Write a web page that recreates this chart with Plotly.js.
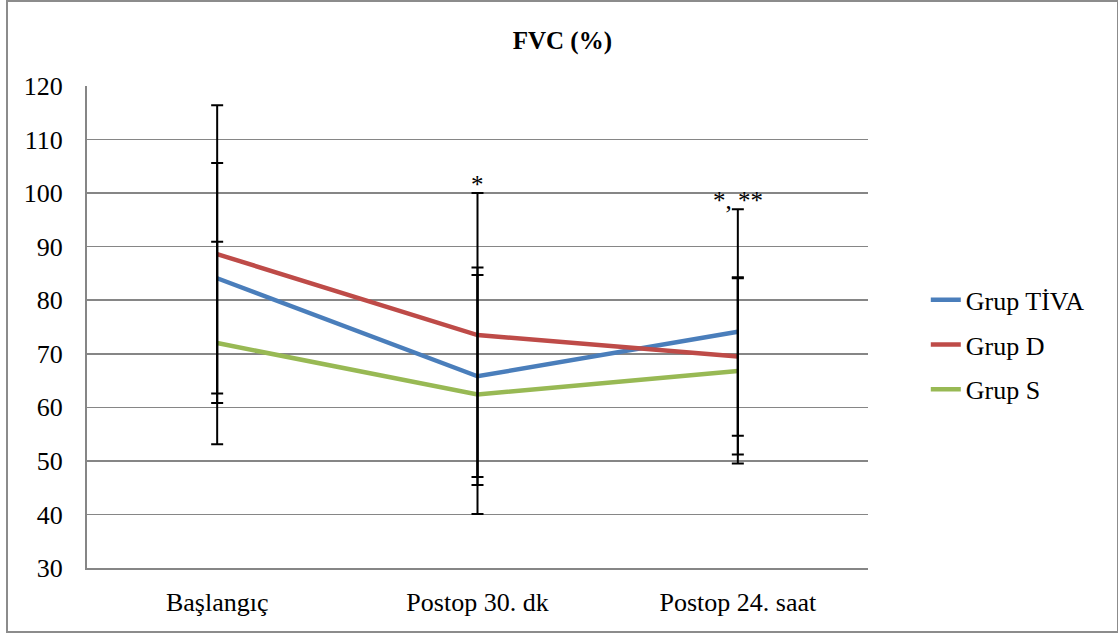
<!DOCTYPE html>
<html>
<head>
<meta charset="utf-8">
<script src="https://cdn.plot.ly/plotly-3.0.1.min.js"></script>
<style>
html,body{margin:0;padding:0;background:#fff;}
#wrap{position:relative;width:1118px;height:634px;}
#frame{position:absolute;left:6px;top:0px;width:1109px;height:629px;border:2px solid #8c8c8c;pointer-events:none;z-index:5;}
#chart{position:absolute;left:0;top:0;width:1118px;height:634px;}
</style>
</head>
<body>
<div id="wrap"><div id="chart"></div><div id="frame"></div></div>
<script>
var categories = ["Başlangıç", "Postop 30. dk", "Postop 24. saat"];
var seriesNames = ["Grup TİVA", "Grup D", "Grup S"];
var tivaMean = [84.1, 65.8, 74.1];
var tivaSD   = [21.5, 20.3, 22.9];
var dMean    = [88.6, 73.5, 69.5];
var dSD      = [27.8, 26.5, 14.8];
var sMean    = [72.0, 62.4, 66.8];
var sSD      = [18.9, 22.3, 17.3];
var markText = ["", "*", "*, **"];
var markY    = [null, 100, 97];

var colors = ["#4A7EBB", "#BE4B48", "#98B954"];
var means = [tivaMean, dMean, sMean];
var sds = [tivaSD, dSD, sSD];
var FONT = "Liberation Serif";

var traces = [];
for (var i = 0; i < 3; i++) {
  traces.push({
    x: categories, y: means[i], type: "scatter", mode: "lines",
    name: seriesNames[i], legendgroup: "g" + i,
    line: {color: colors[i], width: 4.5}
  });
}
for (var i = 0; i < 3; i++) {
  traces.push({
    x: categories, y: means[i], type: "scatter", mode: "markers",
    marker: {opacity: 0, size: 1}, showlegend: false, hoverinfo: "skip",
    error_y: {type: "data", array: sds[i], visible: true, color: "#000", thickness: 2, width: 6}
  });
}

var annotations = [];
for (var k = 0; k < categories.length; k++) {
  if (markText[k]) {
    annotations.push({
      x: categories[k], y: markY[k], xref: "x", yref: "y",
      text: markText[k], showarrow: false, yanchor: "bottom", yshift: -7,
      font: {family: FONT, size: 25, color: "#000"}
    });
  }
}

var layout = {
  width: 1118, height: 634,
  margin: {l: 87, r: 250, t: 86, b: 66},
  paper_bgcolor: "#fff", plot_bgcolor: "#fff",
  font: {family: FONT, size: 26, color: "#000"},
  title: {text: "<b>FVC (%)</b>", x: 0.503, xanchor: "center", y: 0.937, yanchor: "middle",
          font: {family: FONT, size: 25, color: "#000"}},
  xaxis: {
    type: "category", range: [-0.5, 2.5], showgrid: false,
    showline: true, linecolor: "#868686", linewidth: 2, ticks: "", ticklen: 0,
    tickfont: {family: FONT, size: 26, color: "#000"}, zeroline: false, ticklabelstandoff: 10
  },
  yaxis: {
    range: [30, 120], dtick: 10, tick0: 30, showgrid: true, gridcolor: "#868686", gridwidth: 1.5,
    showline: true, linecolor: "#868686", linewidth: 2, ticks: "", zeroline: false,
    tickfont: {family: FONT, size: 26, color: "#000"}, ticklabelstandoff: 17
  },
  legend: {
    x: 1.074, xanchor: "left", y: 0.463, yanchor: "middle",
    font: {family: FONT, size: 26, color: "#000"},
    tracegroupgap: 8, itemwidth: 30
  },
  annotations: annotations,
  showlegend: true
};

Plotly.newPlot("chart", traces, layout, {displayModeBar: false, staticPlot: true});
</script>
</body>
</html>
